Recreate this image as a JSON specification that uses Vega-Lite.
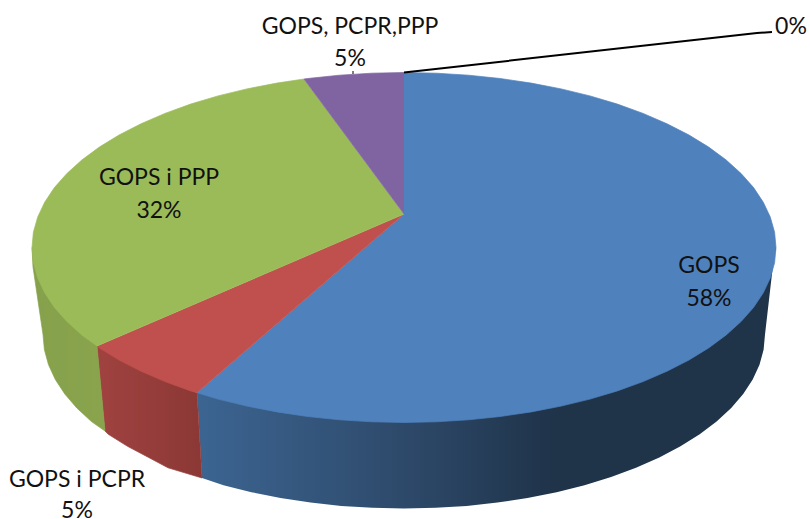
{
"$schema":"https://vega.github.io/schema/vega-lite/v6.json",
"width":810,"height":519,
"autosize":{"type":"none"},
"padding":0,
"background":"white",
"view":{"stroke":null},
"config":{"text":{"font":"Lato"}},
"datasets":{
"outline":[
{"part":"wallBlue","i":1,"x":404,"y":247.5},{"part":"wallBlue","i":2,"x":776,"y":247.5},{"part":"wallBlue","i":3,"x":773,"y":265},{"part":"wallBlue","i":4,"x":765,"y":334.5},{"part":"wallBlue","i":5,"x":763.6,"y":349.7},{"part":"wallBlue","i":6,"x":759.5,"y":364.7},{"part":"wallBlue","i":7,"x":752.7,"y":379.5},{"part":"wallBlue","i":8,"x":743.2,"y":394},{"part":"wallBlue","i":9,"x":731.2,"y":408},{"part":"wallBlue","i":10,"x":716.6,"y":421.5},{"part":"wallBlue","i":11,"x":699.7,"y":434.3},{"part":"wallBlue","i":12,"x":680.5,"y":446.3},{"part":"wallBlue","i":13,"x":659.3,"y":457.5},{"part":"wallBlue","i":14,"x":636,"y":467.8},{"part":"wallBlue","i":15,"x":611.1,"y":477},{"part":"wallBlue","i":16,"x":584.5,"y":485.2},{"part":"wallBlue","i":17,"x":556.6,"y":492.2},{"part":"wallBlue","i":18,"x":527.5,"y":498},{"part":"wallBlue","i":19,"x":497.4,"y":502.6},{"part":"wallBlue","i":20,"x":466.7,"y":505.9},{"part":"wallBlue","i":21,"x":435.5,"y":507.8},{"part":"wallBlue","i":22,"x":404,"y":508.5},{"part":"wallBlue","i":23,"x":372.5,"y":507.8},{"part":"wallBlue","i":24,"x":341.3,"y":505.9},{"part":"wallBlue","i":25,"x":310.6,"y":502.6},{"part":"wallBlue","i":26,"x":280.5,"y":498},{"part":"wallBlue","i":27,"x":251.4,"y":492.2},{"part":"wallBlue","i":28,"x":223.5,"y":485.2},{"part":"wallBlue","i":29,"x":202,"y":478},{"part":"wallBlue","i":30,"x":197,"y":392.7},
{"part":"wallRed","i":1,"x":197,"y":392.7},{"part":"wallRed","i":2,"x":202,"y":478},{"part":"wallRed","i":3,"x":168,"y":467.8},{"part":"wallRed","i":4,"x":148.7,"y":457.5},{"part":"wallRed","i":5,"x":127.5,"y":446.3},{"part":"wallRed","i":6,"x":108.3,"y":434.3},{"part":"wallRed","i":7,"x":105,"y":431},{"part":"wallRed","i":8,"x":97,"y":346},
{"part":"wallGreen","i":1,"x":97,"y":346},{"part":"wallGreen","i":2,"x":105,"y":431},{"part":"wallGreen","i":3,"x":91.4,"y":421.5},{"part":"wallGreen","i":4,"x":76.8,"y":408},{"part":"wallGreen","i":5,"x":64.8,"y":394},{"part":"wallGreen","i":6,"x":55.3,"y":379.5},{"part":"wallGreen","i":7,"x":48.5,"y":364.7},{"part":"wallGreen","i":8,"x":44.4,"y":349.7},{"part":"wallGreen","i":9,"x":43,"y":334.5},{"part":"wallGreen","i":10,"x":33,"y":267},{"part":"wallGreen","i":11,"x":32,"y":247.5},{"part":"wallGreen","i":12,"x":97,"y":247.5},
{"part":"topBlue","i":0,"x":404,"y":214},{"part":"topBlue","i":1,"x":404,"y":72.5},{"part":"topBlue","i":2,"x":436.4,"y":73.2},{"part":"topBlue","i":3,"x":468.6,"y":75.2},{"part":"topBlue","i":4,"x":500.3,"y":78.5},{"part":"topBlue","i":5,"x":531.2,"y":83.1},{"part":"topBlue","i":6,"x":561.2,"y":88.9},{"part":"topBlue","i":7,"x":590,"y":95.9},{"part":"topBlue","i":8,"x":617.4,"y":104.1},{"part":"topBlue","i":9,"x":643.1,"y":113.4},{"part":"topBlue","i":10,"x":667,"y":123.8},{"part":"topBlue","i":11,"x":689,"y":135},{"part":"topBlue","i":12,"x":708.7,"y":147.1},{"part":"topBlue","i":13,"x":726.2,"y":160},{"part":"topBlue","i":14,"x":741.1,"y":173.5},{"part":"topBlue","i":15,"x":753.6,"y":187.6},{"part":"topBlue","i":16,"x":763.3,"y":202.2},{"part":"topBlue","i":17,"x":770.3,"y":217.1},{"part":"topBlue","i":18,"x":774.6,"y":232.2},{"part":"topBlue","i":19,"x":776,"y":247.5},{"part":"topBlue","i":20,"x":774.6,"y":262.8},{"part":"topBlue","i":21,"x":770.3,"y":277.9},{"part":"topBlue","i":22,"x":763.3,"y":292.8},{"part":"topBlue","i":23,"x":753.6,"y":307.4},{"part":"topBlue","i":24,"x":741.1,"y":321.5},{"part":"topBlue","i":25,"x":726.2,"y":335},{"part":"topBlue","i":26,"x":708.7,"y":347.9},{"part":"topBlue","i":27,"x":689,"y":360},{"part":"topBlue","i":28,"x":667,"y":371.2},{"part":"topBlue","i":29,"x":643.1,"y":381.6},{"part":"topBlue","i":30,"x":617.4,"y":390.9},{"part":"topBlue","i":31,"x":590,"y":399.1},{"part":"topBlue","i":32,"x":561.2,"y":406.1},{"part":"topBlue","i":33,"x":531.2,"y":411.9},{"part":"topBlue","i":34,"x":500.3,"y":416.5},{"part":"topBlue","i":35,"x":468.6,"y":419.8},{"part":"topBlue","i":36,"x":436.4,"y":421.8},{"part":"topBlue","i":37,"x":404,"y":422.5},{"part":"topBlue","i":38,"x":371.6,"y":421.8},{"part":"topBlue","i":39,"x":339.4,"y":419.8},{"part":"topBlue","i":40,"x":307.7,"y":416.5},{"part":"topBlue","i":41,"x":276.8,"y":411.9},{"part":"topBlue","i":42,"x":246.8,"y":406.1},{"part":"topBlue","i":43,"x":218,"y":399.1},{"part":"topBlue","i":44,"x":197,"y":392.7},
{"part":"topRed","i":0,"x":404,"y":214},{"part":"topRed","i":1,"x":197,"y":392.7},{"part":"topRed","i":2,"x":190.6,"y":390.9},{"part":"topRed","i":3,"x":164.9,"y":381.6},{"part":"topRed","i":4,"x":141,"y":371.2},{"part":"topRed","i":5,"x":119,"y":360},{"part":"topRed","i":6,"x":99.3,"y":347.9},{"part":"topRed","i":7,"x":97,"y":346},
{"part":"topGreen","i":0,"x":404,"y":214},{"part":"topGreen","i":1,"x":97,"y":346},{"part":"topGreen","i":2,"x":81.8,"y":335},{"part":"topGreen","i":3,"x":66.9,"y":321.5},{"part":"topGreen","i":4,"x":54.4,"y":307.4},{"part":"topGreen","i":5,"x":44.7,"y":292.8},{"part":"topGreen","i":6,"x":37.7,"y":277.9},{"part":"topGreen","i":7,"x":33.4,"y":262.8},{"part":"topGreen","i":8,"x":32,"y":247.5},{"part":"topGreen","i":9,"x":33.4,"y":232.2},{"part":"topGreen","i":10,"x":37.7,"y":217.1},{"part":"topGreen","i":11,"x":44.7,"y":202.2},{"part":"topGreen","i":12,"x":54.4,"y":187.6},{"part":"topGreen","i":13,"x":66.9,"y":173.5},{"part":"topGreen","i":14,"x":81.8,"y":160},{"part":"topGreen","i":15,"x":99.3,"y":147.1},{"part":"topGreen","i":16,"x":119,"y":135},{"part":"topGreen","i":17,"x":141,"y":123.8},{"part":"topGreen","i":18,"x":164.9,"y":113.4},{"part":"topGreen","i":19,"x":190.6,"y":104.1},{"part":"topGreen","i":20,"x":218,"y":95.9},{"part":"topGreen","i":21,"x":246.8,"y":88.9},{"part":"topGreen","i":22,"x":276.8,"y":83.1},{"part":"topGreen","i":23,"x":304,"y":79},
{"part":"topPurple","i":0,"x":404,"y":214},{"part":"topPurple","i":1,"x":304,"y":79},{"part":"topPurple","i":2,"x":307.7,"y":78.5},{"part":"topPurple","i":3,"x":339.4,"y":75.2},{"part":"topPurple","i":4,"x":371.6,"y":73.2},{"part":"topPurple","i":5,"x":404,"y":72.5},
{"part":"leader","i":1,"x":404,"y":72.5},{"part":"leader","i":2,"x":757,"y":33},{"part":"leader","i":3,"x":772,"y":32},
{"part":"tick","i":1,"x":353,"y":71},{"part":"tick","i":2,"x":353,"y":74}
],
"labels":[
{"text":"GOPS","x":709,"y":266},{"text":"58%","x":709,"y":299},
{"text":"GOPS i PPP","x":159,"y":178},{"text":"32%","x":159,"y":211},
{"text":"GOPS i PCPR","x":77,"y":480},{"text":"5%","x":77,"y":511},
{"text":"GOPS, PCPR,PPP","x":350,"y":27},{"text":"5%","x":350,"y":59},
{"text":"0%","x":791,"y":27}
]},
"data":{"name":"outline"},
"encoding":{
"x":{"field":"x","type":"quantitative","axis":null,"scale":{"domain":[0,810],"nice":false,"zero":false}},
"y":{"field":"y","type":"quantitative","axis":null,"scale":{"domain":[519,0],"nice":false,"zero":false}},
"order":{"field":"i","type":"quantitative"}
},
"layer":[
{"transform":[{"filter":"datum.part==='wallBlue'"}],"mark":{"type":"line","strokeWidth":0,"fill":{"gradient":"linear","x1":0,"y1":0,"x2":1,"y2":0,"stops":[{"offset":0,"color":"#3c6592"},{"offset":0.35,"color":"#2e4a6b"},{"offset":0.62,"color":"#1f3349"},{"offset":1,"color":"#1f3349"}]}}},
{"transform":[{"filter":"datum.part==='wallRed'"}],"mark":{"type":"line","strokeWidth":0.7,"stroke":"#963e3b","fill":{"gradient":"linear","x1":0,"y1":0,"x2":1,"y2":0,"stops":[{"offset":0,"color":"#a04240"},{"offset":1,"color":"#8b3835"}]}}},
{"transform":[{"filter":"datum.part==='wallGreen'"}],"mark":{"type":"line","strokeWidth":0.7,"stroke":"#88a34c","fill":{"gradient":"linear","x1":0,"y1":0,"x2":1,"y2":0,"stops":[{"offset":0,"color":"#86a14b"},{"offset":1,"color":"#8aa44e"}]}}},
{"transform":[{"filter":"datum.part==='topBlue'"}],"mark":{"type":"line","strokeWidth":0.7,"stroke":"#4f81bd","fill":"#4f81bd"}},
{"transform":[{"filter":"datum.part==='topRed'"}],"mark":{"type":"line","strokeWidth":0.7,"stroke":"#c0504d","fill":"#c0504d"}},
{"transform":[{"filter":"datum.part==='topGreen'"}],"mark":{"type":"line","strokeWidth":0.7,"stroke":"#9bbb59","fill":"#9bbb59"}},
{"transform":[{"filter":"datum.part==='topPurple'"}],"mark":{"type":"line","strokeWidth":0.7,"stroke":"#8064a2","fill":"#8064a2"}},
{"transform":[{"filter":"datum.part==='leader'"}],"mark":{"type":"line","stroke":"#000000","strokeWidth":2}},
{"transform":[{"filter":"datum.part==='tick'"}],"mark":{"type":"line","stroke":"#000000","strokeWidth":1}},
{"data":{"name":"labels"},"mark":{"type":"text","font":"Lato","fontSize":23,"align":"center","baseline":"middle","color":"#111111"},"encoding":{"text":{"field":"text","type":"nominal"},"order":{"value":null}}}
]
}
